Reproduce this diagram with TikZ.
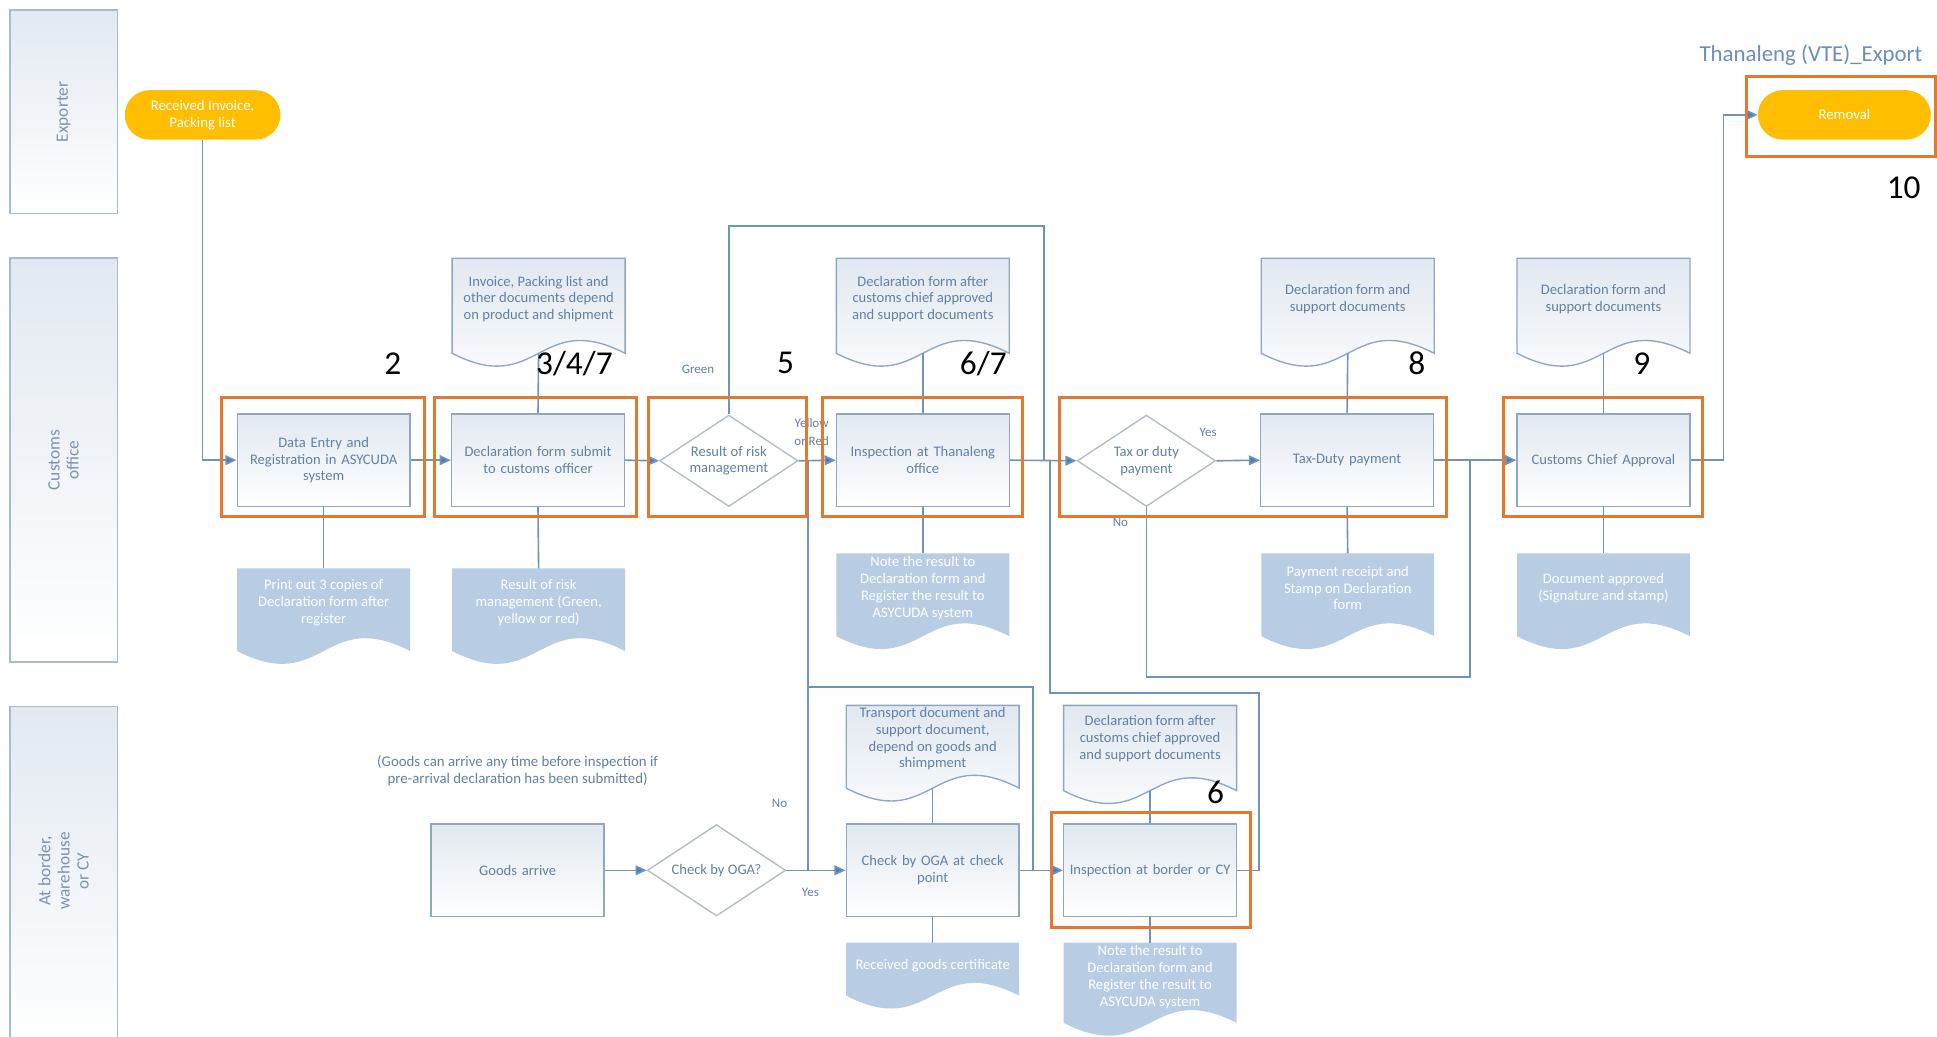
\documentclass[tikz,border=0pt]{standalone}
\usepackage{fontspec}
\setmainfont{Carlito}
\usetikzlibrary{shapes.geometric,arrows.meta}
\definecolor{lanetop}{HTML}{E2E9F1}
\definecolor{laneborder}{HTML}{A9BBCE}
\definecolor{boxborder}{HTML}{8FA7C0}
\definecolor{boxtop}{HTML}{E1E8F0}
\definecolor{txt}{HTML}{6381A3}
\definecolor{lanetxt}{HTML}{7D93AC}
\definecolor{linec}{HTML}{6F94BC}
\definecolor{arrowc}{HTML}{4A7FBF}
\definecolor{orangec}{HTML}{E5772F}
\definecolor{goldc}{HTML}{FFBE00}
\definecolor{docfill}{HTML}{B8CCE4}
\definecolor{diab}{HTML}{B3BCC6}
\definecolor{titlec}{HTML}{6C8FB8}
\newcommand\docpath[5]{%
  \path[#1] (#2,#3) -- (#4,#3) -- (#4,#5) .. controls ({(#2+#4)/2},{#5-36}) and ({(#2+#4)/2},{#5+36}) .. (#2,#5) -- cycle;}
\newcommand\mkdoc[8]{%
  \docpath{#2}{#3}{#4}{#5}{#6}
  \coordinate (#1-t) at ({(#3+#5)/2},#4);
  \coordinate (#1-b) at ({(#3+#5)/2},#6);
  \node[#2txt] (#1) at ({(#3+#5)/2},#7) {#8};}
\begin{document}
\begin{tikzpicture}[x=1pt,y=-1pt,
  lane/.style={draw=laneborder,line width=1.2,top color=lanetop,bottom color=white},
  lanetxt/.style={text=lanetxt,align=center,font=\fontsize{14}{15.5}\selectfont},
  proc/.style={draw=boxborder,line width=1.1,top color=boxtop,bottom color=white,
    minimum width=140,minimum height=75,inner sep=2,text width=136,align=center,
    text=txt,font=\fontsize{11.8}{13.6}\selectfont},
  dia/.style={shape=diamond,draw=diab,fill=white,line width=1.1,minimum width=112,
    minimum height=74,inner sep=0,aspect=1.5,align=center,text=txt,
    font=\fontsize{11.8}{13.6}\selectfont},
  term/.style={fill=goldc,rounded corners=20,minimum width=126,minimum height=40,
    align=center,text=white,font=\fontsize{12}{13.5}\selectfont},
  hl/.style={draw=orangec,line width=2.4},
  num/.style={text=black,font=\fontsize{27}{30}\selectfont},
  topdoc/.style={draw=boxborder,line width=1.1,top color=boxtop,bottom color=white},
  topdoctxt/.style={align=center,text=txt,font=\fontsize{11.8}{13.6}\selectfont},
  botdoc/.style={fill=docfill},
  botdoctxt/.style={align=center,text=white,font=\fontsize{11.8}{13.6}\selectfont},
  conn/.style={draw=linec,line width=1.3},
  flow/.style={draw=linec,line width=1.3,-{Triangle[length=9,width=8,fill=arrowc]}},
  lbl/.style={text=txt,align=center,font=\fontsize{10.5}{14}\selectfont},
]
\useasboundingbox[fill=white] (0,0) rectangle (1568,839);

% lanes
\node[lane,minimum width=87,minimum height=165] (lexp) at (51.5,90.5) {};
\node[lanetxt,rotate=90] (lexpt) at (lexp.center) {Exporter};
\node[lane,minimum width=87,minimum height=327] (lcus) at (51.5,372.5) {};
\node[lanetxt,rotate=90] (lcust) at (lcus.center) {Customs\\office};
\node[lane,minimum width=87,minimum height=276] (lbor) at (51.5,710) {};
\node[lanetxt,rotate=90] (lbort) at (51.5,705) {At border,\\warehouse\\or CY};

% title
\node[text=titlec,font=\fontsize{18.5}{20}\selectfont] (title) at (1466,45) {Thanaleng (VTE)\_Export};

% documents
\mkdoc{a1}{topdoc}{366}{209}{506}{286}{242}{Invoice, Packing list and\\other documents depend\\on product and shipment}
\mkdoc{a2}{topdoc}{677}{209}{817}{286}{242}{Declaration form after\\customs chief approved\\and support documents}
\mkdoc{a3}{topdoc}{1021}{209}{1161}{286}{242}{Declaration form and\\support documents}
\mkdoc{a4}{topdoc}{1228}{209}{1368}{286}{242}{Declaration form and\\support documents}
\mkdoc{c1}{botdoc}{192}{460}{332}{527}{488}{Print out 3 copies of\\Declaration form after\\register}
\mkdoc{c2}{botdoc}{366}{460}{506}{527}{488}{Result of risk\\management (Green,\\yellow or red)}
\mkdoc{c3}{botdoc}{677}{448}{817}{515}{476}{Note the result to\\Declaration form and\\Register the result to\\ASYCUDA system}
\mkdoc{c4}{botdoc}{1021}{448}{1161}{515}{476}{Payment receipt and\\Stamp on Declaration\\form}
\mkdoc{c5}{botdoc}{1228}{448}{1368}{515}{476}{Document approved\\(Signature and stamp)}
\mkdoc{e1}{topdoc}{685}{571}{825}{638}{598}{Transport document and\\support document,\\depend on goods and\\shimpment}
\mkdoc{e2}{topdoc}{861}{571}{1001}{640}{598}{Declaration form after\\customs chief approved\\and support documents}
\mkdoc{f1}{botdoc}{685}{763}{825}{806}{782}{Received goods certificate}
\mkdoc{f2}{botdoc}{861}{763}{1001}{828}{791}{Note the result to\\Declaration form and\\Register the result to\\ASYCUDA system}

% terminals
\node[term] (t0) at (164,93) {Received Invoice,\\Packing list};
\node[term,minimum width=140] (t10) at (1493,93) {Removal};

% customs lane
\node[proc] (p2) at (262,372.5) {Data Entry and\\Registration in ASYCUDA\\system};
\node[proc] (p3) at (435.5,372.5) {Declaration form submit\\to customs officer};
\node[dia] (d5) at (590,373) {Result of risk\\management};
\node[proc] (p6) at (747,372.5) {Inspection at Thanaleng\\office};
\node[dia] (d8) at (928,373) {Tax or duty\\payment};
\node[proc] (p8) at (1090.5,372.5) {Tax-Duty payment};
\node[proc] (p9) at (1298,372.5) {Customs Chief Approval};

% border lane
\node[proc] (b1) at (419,704.5) {Goods arrive};
\node[dia] (d0) at (580,704.5) {Check by OGA?};
\node[proc] (b2) at (755,704.5) {Check by OGA at check\\point};
\node[proc] (b3) at (931,704.5) {Inspection at border or CY};

\node[lbl,font=\fontsize{12}{13.5}\selectfont] (note) at (419,624) {(Goods can arrive any time before inspection if\\pre-arrival declaration has been submitted)};

% coordinates
\coordinate (j1) at (654,373);
\coordinate (j2) at (654,704.5);
\coordinate (j3) at (654,556);
\coordinate (j4) at (836,704.5);
\coordinate (g2) at (845,183);
\coordinate (g3) at (845,373);
\coordinate (r1) at (1019,561);
\coordinate (r2) at (850,561);
\coordinate (r3) at (850,373);
\coordinate (n1) at (1190,548);
\coordinate (n2) at (1190,373);
\coordinate (m1) at (1395,93);

% document links
\draw[conn] (p2.south) -- (c1-t);
\draw[conn] (p3.north) -- (a1-b);
\draw[conn] (p3.south) -- (c2-t);
\draw[conn] (p6.north) -- (a2-b);
\draw[conn] (p6.south) -- (c3-t);
\draw[conn] (p8.north) -- (a3-b);
\draw[conn] (p8.south) -- (c4-t);
\draw[conn] (p9.north) -- (a4-b);
\draw[conn] (p9.south) -- (c5-t);
\draw[conn] (b2.north) -- (e1-b);
\draw[conn] (b2.south) -- (f1-t);
\draw[conn] (b3.north) -- (e2-b);
\draw[conn] (b3.south) -- (f2-t);

% flow
\draw[flow] (t0.south) |- (p2.west);
\draw[flow] (p2.east) -- (p3.west);
\draw[flow] (p3.east) -- (d5.west);
\draw[flow] (d5.east) -- (p6.west);
\draw[conn] (j1) -- (j2);
\draw[conn] (j3) -| (j4);
\draw[conn] (d5.north) |- (g2) -- (g3);
\draw[flow] (p6.east) -- (d8.west);
\draw[flow] (d8.east) -- (p8.west);
\draw[conn] (d8.south) |- (n1) -- (n2);
\draw[flow] (p8.east) -- (p9.west);
\draw[flow] (p9.east) -| (m1) -- (t10.west);
\draw[flow] (b1.east) -- (d0.west);
\draw[flow] (d0.east) -- (b2.west);
\draw[flow] (b2.east) -- (b3.west);
\draw[conn] (b3.east) -| (r1) -- (r2) -- (r3);

% labels
\node[lbl] (lg) at (565,299) {Green};
\node[lbl,font=\fontsize{10.5}{14.5}\selectfont] (lyr) at (657,350) {Yellow\\or Red};
\node[lbl] (ly) at (978,350) {Yes};
\node[lbl] (ln) at (907,423) {No};
\node[lbl] (ln2) at (631,650) {No};
\node[lbl] (ly2) at (656,722) {Yes};

% highlights
\draw[hl] (179,322) rectangle (344,418);
\draw[hl] (352,322) rectangle (515,418);
\draw[hl] (525,322) rectangle (653,418);
\draw[hl] (666,322) rectangle (828,418);
\draw[hl] (858,322) rectangle (1171,418);
\draw[hl] (1217,322) rectangle (1378,418);
\draw[hl] (1414,62) rectangle (1567,127);
\draw[hl] (851,658) rectangle (1012,751);

% step numbers
\node[num] (n2t) at (318,294) {2};
\node[num] (n3t) at (465,294) {3/4/7};
\node[num] (n5t) at (636,294) {5};
\node[num] (n6t) at (796,294) {6/7};
\node[num] (n8t) at (1147,294) {8};
\node[num] (n9t) at (1329,294) {9};
\node[num] (n10t) at (1541,152) {10};
\node[num] (n6b) at (984,641) {6};
\end{tikzpicture}
\end{document}
